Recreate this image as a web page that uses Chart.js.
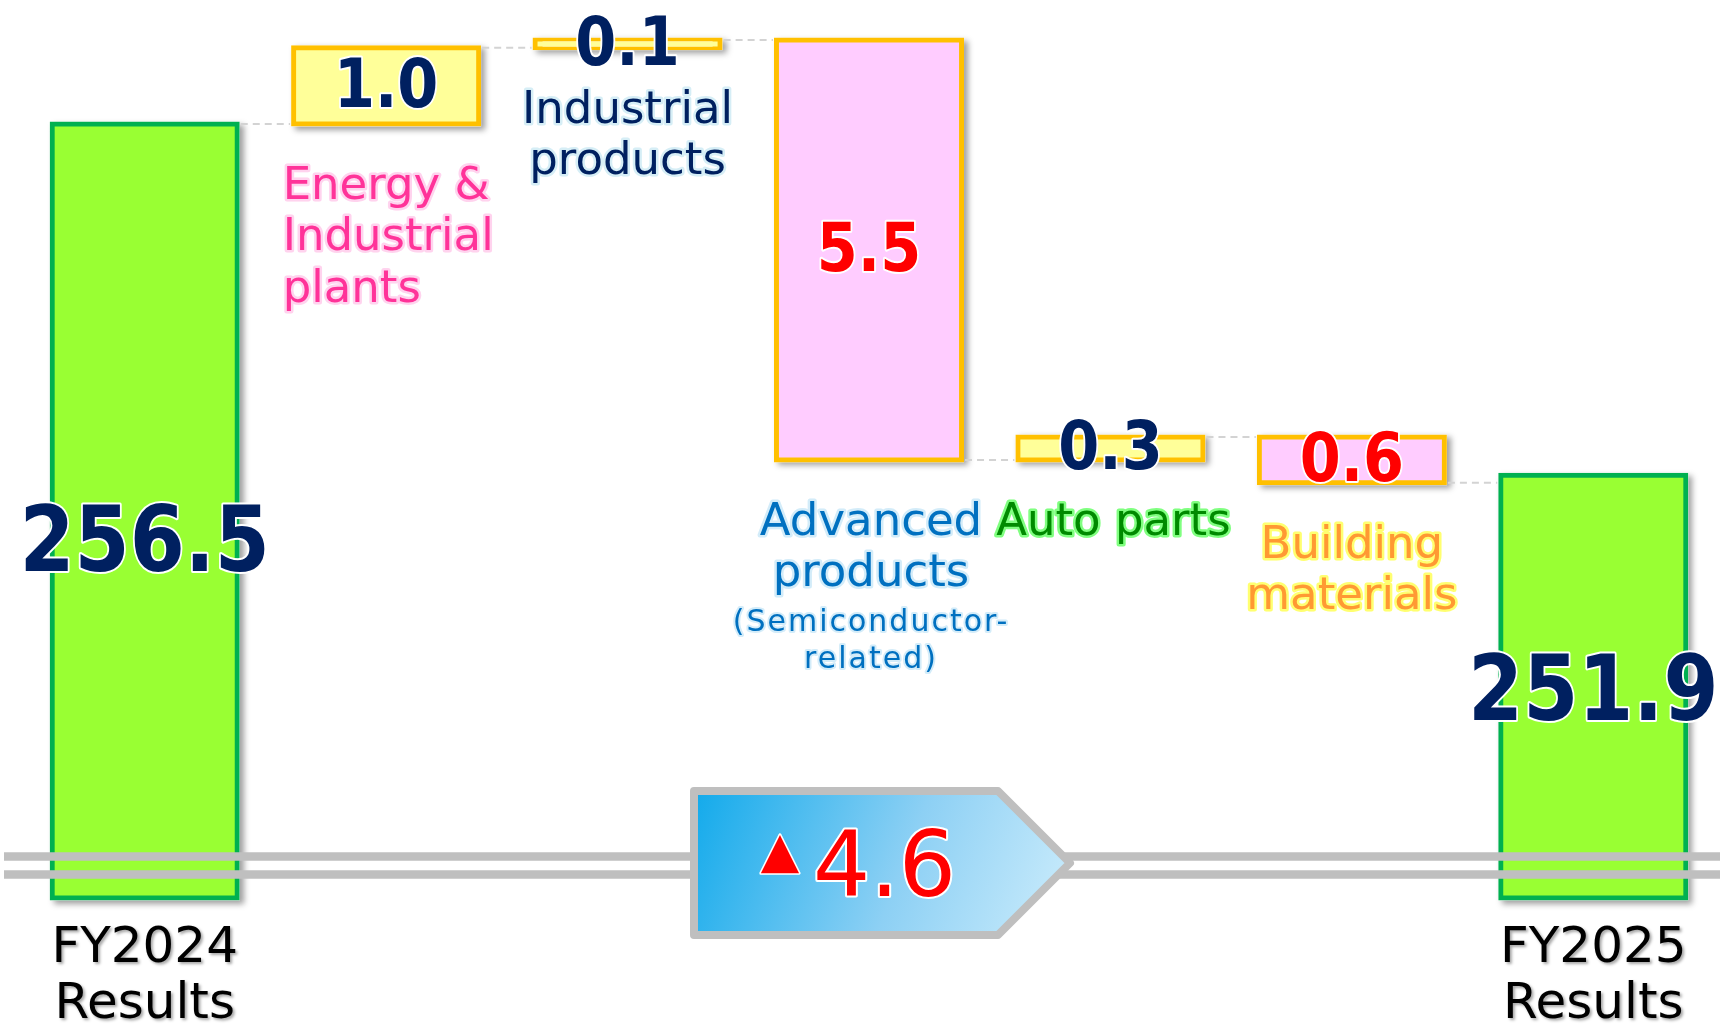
<!DOCTYPE html>
<html>
<head>
<meta charset="utf-8">
<script src="https://cdn.jsdelivr.net/npm/chart.js@4.4.1/dist/chart.umd.min.js"></script>
<style>
html,body{margin:0;padding:0;background:#ffffff;}
#wrap{width:1729px;height:1031px;position:relative;}
</style>
</head>
<body>
<div id="wrap"><canvas id="c"></canvas></div>
<script>
// ---------------- data ----------------
const categories = ['FY2024 Results', 'Energy & Industrial plants', 'Industrial products',
  'Advanced products (Semiconductor-related)', 'Auto parts', 'Building materials', 'FY2025 Results'];
const axisLabels = [['FY2024', 'Results'], '', '', '', '', '', ['FY2025', 'Results']];
const barLabelLines = [[], ['Energy &', 'Industrial', 'plants'], ['Industrial', 'products'],
  ['Advanced', 'products'], ['Auto parts'], ['Building', 'materials'], []];
const barNoteLines = [[], [], [], ['(Semiconductor-', 'related)'], [], [], []];
const totals = [256.5, null, null, null, null, null, 251.9];
const changes = [null, 1.0, 0.1, -5.5, 0.3, -0.6, null];
const valueLabels = ['256.5', '1.0', '0.1', '5.5', '0.3', '0.6', '251.9'];
const netChange = -4.6;
const netChangeLabel = ['\u25B2', '4.6'];

// axis range (broken axis: bottom is cut)
const yMin = 246.36, yMax = 258.06;

// floating bar ranges built from the arrays above
let running = totals[0];
const ranges = categories.map((c, i) => {
  if (totals[i] !== null) return [yMin, totals[i]];
  const start = running;
  running = Math.round((running + changes[i]) * 100) / 100;
  return [start, running];
});

// ---------------- styles ----------------
const FONT = '"DejaVu Sans", Verdana, sans-serif';
const INF = 2.5;
const barFill = categories.map((c, i) => totals[i] !== null ? '#99FF33' : (changes[i] >= 0 ? '#FFFF99' : '#FFCCFF'));
const barBorder = categories.map((c, i) => totals[i] !== null ? '#00B050' : '#FFC000');
const valueColor = categories.map((c, i) => (changes[i] !== null && changes[i] < 0) ? '#FF0000' : '#002060');
const labelStyle = [
  null,
  {color: '#FF3399', glow: '#FFD3EE', align: 'left', dx: -103.5},
  {color: '#002060', glow: '#D6EEF6', align: 'center', dx: 0},
  {color: '#0070C0', glow: '#D3ECF9', align: 'center', dx: 2},
  {color: '#008A00', glow: '#80FF80', align: 'center', dx: 3},
  {color: '#FF9933', glow: '#FFFF70', align: 'center', dx: 0},
  null
];

function txt(ctx, s, x, y, o) {
  ctx.save();
  ctx.font = o.font;
  ctx.textAlign = o.align || 'center';
  ctx.textBaseline = 'alphabetic';
  if (o.letterSpacing) ctx.letterSpacing = o.letterSpacing;
  ctx.translate(x, y);
  if (o.sx) ctx.scale(o.sx, 1);
  if (o.glow) {
    ctx.lineJoin = 'round';
    ctx.strokeStyle = o.glow;
    ctx.lineWidth = o.glowW || 5;
    ctx.strokeText(s, 0, 0);
  }
  ctx.fillStyle = o.color;
  ctx.fillText(s, 0, 0);
  ctx.restore();
}

const decor = {
  id: 'decor',
  beforeDraw(chart) {
    const ctx = chart.ctx;
    ctx.save();
    ctx.shadowColor = 'rgba(0,0,0,0.35)';
    ctx.shadowBlur = 3;
    ctx.shadowOffsetX = 2;
    ctx.shadowOffsetY = 2;
  },
  beforeDatasetsDraw(chart) {
    const ctx = chart.ctx;
    ctx.restore();
    const els = chart.getDatasetMeta(0).data;
    els.forEach(el => {
      const top = Math.min(el.y, el.base) - INF, bot = Math.max(el.y, el.base) + INF;
      ctx.save();
      ctx.shadowColor = 'rgba(0,0,0,0.38)';
      ctx.shadowBlur = 6;
      ctx.shadowOffsetX = 4;
      ctx.shadowOffsetY = 3;
      ctx.fillStyle = '#ffffff';
      ctx.fillRect(el.x - el.width / 2 - INF, top, el.width + 2 * INF, bot - top);
      ctx.restore();
    });
  },
  afterDatasetsDraw(chart) {
    const ctx = chart.ctx, xs = chart.scales.x, ys = chart.scales.y, area = chart.chartArea;
    const els = chart.getDatasetMeta(0).data;
    // dashed connectors
    ctx.save();
    ctx.strokeStyle = '#D3D3D3';
    ctx.lineWidth = 2;
    ctx.setLineDash([7, 5]);
    for (let i = 0; i < els.length - 1; i++) {
      const a = els[i], b = els[i + 1];
      const yv = ys.getPixelForValue(ranges[i][1]);
      ctx.beginPath();
      ctx.moveTo(a.x + a.width / 2 + INF + 1, yv);
      ctx.lineTo(b.x - b.width / 2 - INF - 1, yv);
      ctx.stroke();
    }
    ctx.restore();

    // axis break lines
    const yb = area.bottom;
    ctx.save();
    ctx.strokeStyle = '#BFBFBF';
    ctx.lineWidth = 8.5;
    [-41.5, -23.5].forEach(d => {
      ctx.beginPath();
      ctx.moveTo(4, yb + d);
      ctx.lineTo(chart.width - 9, yb + d);
      ctx.stroke();
    });
    ctx.restore();

    // net change arrow
    const pc = xs.getPixelForValue(3);
    const L = pc - 175, S = pc + 129, TIP = pc + 201;
    const T = yb - 107, B = yb + 37, TY = yb - 35;
    ctx.save();
    const g = ctx.createLinearGradient(L, T, TIP, B);
    g.addColorStop(0, '#12AAEB');
    g.addColorStop(0.55, '#8DD0F4');
    g.addColorStop(1, '#CDEDFC');
    ctx.beginPath();
    ctx.moveTo(L, T); ctx.lineTo(S, T); ctx.lineTo(TIP, TY); ctx.lineTo(S, B); ctx.lineTo(L, B); ctx.closePath();
    ctx.fillStyle = g;
    ctx.fill();
    ctx.lineJoin = 'round';
    ctx.strokeStyle = '#BFBFBF';
    ctx.lineWidth = 8;
    ctx.stroke();
    ctx.restore();
    txt(ctx, netChangeLabel[0], pc - 89, yb - 31, {font: '50px ' + FONT, color: '#FF0000', glow: '#FFFFFF', glowW: 3});
    txt(ctx, netChangeLabel[1], pc - 56, yb - 2, {font: '90px ' + FONT, color: '#FF0000', glow: '#FFFFFF', glowW: 4, align: 'left'});

    // value labels
    els.forEach((el, i) => {
      const top = Math.min(el.y, el.base), bot = Math.max(el.y, el.base);
      if (totals[i] !== null) {
        txt(ctx, valueLabels[i], el.x, top + 0.578 * (bot - top),
          {font: 'bold 90px ' + FONT, color: valueColor[i], glow: '#FFFFFF', glowW: 4, sx: 0.88});
      } else {
        txt(ctx, valueLabels[i], el.x, (top + bot) / 2 + 21,
          {font: 'bold 67px ' + FONT, color: valueColor[i], glow: '#FFFFFF', glowW: 4, sx: 0.88});
      }
    });

    // category labels next to the change bars
    els.forEach((el, i) => {
      const st = labelStyle[i];
      if (!st) return;
      const bot = Math.max(el.y, el.base) + INF;
      let capMid = bot + 56;
      barLabelLines[i].forEach((line, k) => {
        txt(ctx, line, el.x + st.dx, capMid + k * 51.5 + 16.4,
          {font: '45px ' + FONT, color: st.color, glow: st.glow, glowW: 5, align: st.align});
      });
      const lastMid = capMid + (barLabelLines[i].length - 1) * 51.5;
      barNoteLines[i].forEach((line, k) => {
        txt(ctx, line, el.x + st.dx, lastMid + 50 + k * 37 + 11,
          {font: '30px ' + FONT, color: st.color, glow: st.glow, glowW: 4, align: st.align, letterSpacing: '2px'});
      });
    });
  }
};

new Chart(document.getElementById('c'), {
  type: 'bar',
  data: {
    labels: categories,
    datasets: [{
      data: ranges,
      backgroundColor: barFill,
      borderColor: barBorder,
      borderWidth: 5,
      borderSkipped: false,
      inflateAmount: INF,
      barPercentage: 0.7666,
      categoryPercentage: 1.0,
      clip: false
    }]
  },
  options: {
    responsive: true,
    maintainAspectRatio: false,
    animation: false,
    layout: {padding: {left: 24, right: 15, top: 5, bottom: 0}},
    plugins: {legend: {display: false}, tooltip: {enabled: false}},
    scales: {
      x: {
        grid: {display: false, drawTicks: false},
        border: {display: false},
        afterFit: (s) => { s.height = 133; },
        ticks: {
          autoSkip: false,
          maxRotation: 0,
          padding: 23.5,
          color: '#000000',
          font: {family: FONT, size: 50, lineHeight: 1.12},
          callback: (v, i) => axisLabels[i]
        }
      },
      y: {
        display: false,
        min: yMin,
        max: yMax
      }
    }
  },
  plugins: [decor]
});
</script>
</body>
</html>
